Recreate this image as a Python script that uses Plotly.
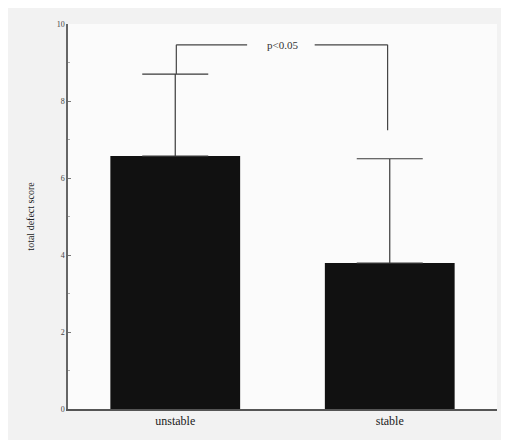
import plotly.graph_objects as go

categories = ["unstable", "stable"]
means = [6.57, 3.79]
sd_upper = [2.13, 2.71]
tick_vals = [0, 2, 4, 6, 8, 10]
p_label = "p<0.05"

x_pos = list(range(len(categories)))
serif = "Liberation Serif, Times New Roman, serif"

fig = go.Figure()
fig.add_trace(go.Bar(
    x=x_pos, y=means, width=0.605,
    marker=dict(color="#111111", line=dict(color="#111111", width=0)),
    error_y=dict(type="data", symmetric=False, array=sd_upper,
                 arrayminus=[0, 0], color="#3a3a3a", thickness=1.2, width=33),
    showlegend=False,
))

# significance bracket
tops = [m + s for m, s in zip(means, sd_upper)]
y_br = 9.46
right_bottom = 7.24
line = dict(color="#444444", width=1.2)
fig.add_shape(type="line", x0=0.005, x1=0.005, y0=tops[0], y1=y_br, line=line)
fig.add_shape(type="line", x0=0.005, x1=0.335, y0=y_br, y1=y_br, line=line)
fig.add_shape(type="line", x0=0.65, x1=0.99, y0=y_br, y1=y_br, line=line)
fig.add_shape(type="line", x0=0.99, x1=0.99, y0=y_br, y1=right_bottom, line=line)
fig.add_annotation(x=0.5, y=y_br, text=p_label, showarrow=False,
                   font=dict(family=serif, size=11, color="#333333"))

fig.update_layout(
    width=501, height=432,
    margin=dict(l=60, r=12, t=14, b=27),
    paper_bgcolor="#f2f2f2", plot_bgcolor="#fbfbfb",
    bargap=0.4,
    xaxis=dict(range=[-0.5, 1.5], tickvals=x_pos, ticktext=categories,
               showgrid=False, zeroline=False, showline=True,
               linecolor="#555555", linewidth=1.5, ticks="",
               tickfont=dict(family=serif, size=12, color="#222222")),
    yaxis=dict(range=[0, 10], tickvals=tick_vals, showgrid=False,
               zeroline=False, showline=True, linecolor="#666666", linewidth=1.5,
               ticks="inside", ticklen=3, tickcolor="#777777",
               minor=dict(dtick=1, ticks="inside", ticklen=2, tickcolor="#aaaaaa"),
               tickfont=dict(family=serif, size=8, color="#444444"),
               title=dict(text="total defect score", standoff=20,
                          font=dict(family=serif, size=10, color="#222222"))),
)

fig.write_html("out.html")
